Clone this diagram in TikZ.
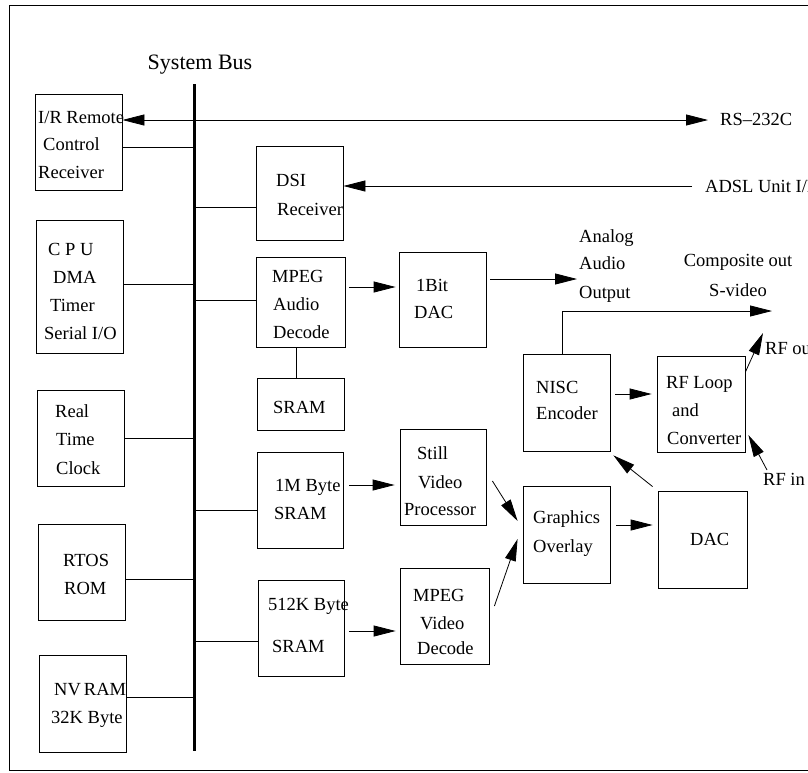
\documentclass[tikz,border=0pt]{standalone}
\usepackage{fontspec}
\setmainfont{Liberation Serif}
\usetikzlibrary{arrows.meta}
\newcommand\bxfont{\fontsize{18.5}{20}\selectfont}
\newcommand\busfont{\fontsize{22}{24}\selectfont}
\tikzset{
  box/.style={draw, line width=0.8pt, inner sep=0pt},
  t/.style={anchor=base west, inner sep=0pt, font=\bxfont},
  tc/.style={anchor=base, inner sep=0pt, font=\bxfont},
  wire/.style={line width=0.8pt},
  arr/.style={line width=0.8pt, -{Triangle[length=22pt,width=11pt]}},
  arrb/.style={line width=0.8pt, {Triangle[length=22pt,width=11pt]}-{Triangle[length=22pt,width=11pt]}},
}
\begin{document}
\begin{tikzpicture}[x=1pt,y=-1pt]
\useasboundingbox (0,0) rectangle (808,772);
\clip (0,0) rectangle (808,772);
\fill[white] (0,0) rectangle (808,772);
% frame
\draw[line width=0.8pt] (9.5,5) rectangle (830,770);

% system bus
\node[anchor=base, inner sep=0pt, font=\busfont] (buslbl) at (200,69) {System Bus};
\coordinate (bt) at (194.5,84);
\coordinate (bb) at (194.5,751);
\draw[line width=3pt] (bt) -- (bb);

% left column boxes
\node[box, minimum width=87pt, minimum height=96pt] (ir) at (78.5,142) {};
\node[box, minimum width=87pt, minimum height=133pt] (cpu) at (79.5,286.5) {};
\node[box, minimum width=87pt, minimum height=96pt] (rtc) at (80.5,438) {};
\node[box, minimum width=87pt, minimum height=96pt] (rtos) at (81.5,572) {};
\node[box, minimum width=87pt, minimum height=97pt] (nvram) at (82.5,703.5) {};

\node[t] (ir1) at (38,123) {I/R Remote};
\node[t] (ir2) at (43,150) {Control};
\node[t] (ir3) at (38,178) {Receiver};
\node[t] (cpu1) at (48,255) {C P U};
\node[t] (cpu2) at (53,283) {DMA};
\node[t] (cpu3) at (50,311) {Timer};
\node[t] (cpu4) at (44,339) {Serial I/O};
\node[t] (rtc1) at (55,417) {Real};
\node[t] (rtc2) at (56,445) {Time};
\node[t] (rtc3) at (56,474) {Clock};
\node[t] (rtos1) at (63,566) {RTOS};
\node[t] (rtos2) at (64,594) {ROM};
\node[t] (nv1) at (54,695) {NV\,RAM};
\node[t] (nv2) at (51,723) {32K Byte};

% bus taps, left
\coordinate (tir) at (194.5,147);
\coordinate (tcpu) at (194.5,284);
\coordinate (trtc) at (194.5,438);
\coordinate (trtos) at (194.5,579);
\coordinate (tnv) at (194.5,697);
\draw[wire] (tir -| ir.east) -- (tir);
\draw[wire] (tcpu -| cpu.east) -- (tcpu);
\draw[wire] (trtc -| rtc.east) -- (trtc);
\draw[wire] (trtos -| rtos.east) -- (trtos);
\draw[wire] (tnv -| nvram.east) -- (tnv);

% middle column boxes
\node[box, minimum width=87pt, minimum height=94pt] (dsi) at (299.5,193) {};
\node[box, minimum width=89pt, minimum height=90pt] (mpa) at (300.5,302) {};
\node[box, minimum width=87pt, minimum height=52pt] (sram) at (300.5,404) {};
\node[box, minimum width=86pt, minimum height=96pt] (m1) at (300,500) {};
\node[box, minimum width=86pt, minimum height=96pt] (k512) at (301,628) {};

\node[t] (dsi1) at (276,186) {DSI};
\node[t] (dsi2) at (277,215) {Receiver};
\node[t] (mpa1) at (272,282) {MPEG};
\node[t] (mpa2) at (273,310) {Audio};
\node[t] (mpa3) at (273,338) {Decode};
\node[t] (sram1) at (273,413) {SRAM};
\node[t] (m11) at (275,491) {1M Byte};
\node[t] (m12) at (274,519) {SRAM};
\node[t] (k1) at (268,610) {512K Byte};
\node[t] (k2) at (272,652) {SRAM};

% bus taps, right
\coordinate (tdsi) at (194.5,207);
\coordinate (tmpa) at (194.5,300);
\coordinate (tm1) at (194.5,510);
\coordinate (tk) at (194.5,641);
\draw[wire] (tdsi) -- (tdsi -| dsi.west);
\draw[wire] (tmpa) -- (tmpa -| mpa.west);
\draw[wire] (tm1) -- (tm1 -| m1.west);
\draw[wire] (tk) -- (tk -| k512.west);

% second column
\node[box, minimum width=87pt, minimum height=95pt] (bit) at (442.5,299.5) {};
\node[box, minimum width=86pt, minimum height=96pt] (still) at (443,477) {};
\node[box, minimum width=89pt, minimum height=96pt] (mpv) at (444.5,616) {};

\node[t] (bit1) at (416,291) {1Bit};
\node[t] (bit2) at (414,318) {DAC};
\node[t] (st1) at (417,459) {Still};
\node[t] (st2) at (418,488) {Video};
\node[t] (st3) at (404,515) {Processor};
\node[t] (mv1) at (413,601) {MPEG};
\node[t] (mv2) at (420,629) {Video};
\node[t] (mv3) at (417,654) {Decode};

% right part
\node[box, minimum width=87pt, minimum height=97pt] (gfx) at (566.5,534.5) {};
\node[box, minimum width=89pt, minimum height=97pt] (dac) at (702.5,539.5) {};
\node[box, minimum width=87pt, minimum height=97pt] (nisc) at (566.5,402.5) {};
\node[box, minimum width=88pt, minimum height=96pt] (rf) at (701,404) {};

\node[t] (g1) at (533,523) {Graphics};
\node[t] (g2) at (533,552) {Overlay};
\node[t] (d1) at (690,545) {DAC};
\node[t] (n1) at (536,393) {NISC};
\node[t] (n2) at (536,419) {Encoder};
\node[t] (r1) at (666,388) {RF Loop};
\node[t] (r2) at (672,416) {and};
\node[t] (r3) at (667,444) {Converter};

% labels
\node[t] (rslbl) at (720,125) {RS--232C};
\node[t] (adsllbl) at (705,192) {ADSL Unit I/F};
\node[t] (ao1) at (579,242) {Analog};
\node[t] (ao2) at (579,269) {Audio};
\node[t] (ao3) at (579,298) {Output};
\node[tc] (co1) at (738,266) {Composite out};
\node[tc] (co2) at (738,296) {S-video};
\node[t] (rfolbl) at (765,354) {RF out};
\node[t] (rfilbl) at (763,485) {RF in};

% free ends
\coordinate (rs) at (708,120);
\coordinate (adsl) at (692,186);
\coordinate (aout) at (577,279);
\coordinate (cvout) at (772,311);
\coordinate (rfo) at (763,333);
\coordinate (rfi) at (767,470);

% connectors
\draw[arrb] ([yshift=22pt]ir.east) -- ([yshift=22pt]ir.east -| rs);
\draw[arr] (adsl) -- (adsl -| dsi.east);
\draw[arr, shorten <=4pt, shorten >=3pt] ([yshift=15pt]mpa.east) -- ([yshift=15pt]mpa.east -| bit.west);
\draw[arr, shorten <=4pt] ([yshift=20.5pt]bit.east) -- ([yshift=20.5pt]bit.east -| aout);
\draw[wire] ([xshift=-4.5pt]mpa.south) -- ([xshift=-4.5pt]mpa.south |- sram.north);
\draw[arr, shorten <=6pt, shorten >=5pt] ([yshift=15pt]m1.east) -- ([yshift=15pt]m1.east -| still.west);
\draw[arr, shorten <=5pt, shorten >=4pt] ([yshift=-3pt]k512.east) -- ([yshift=-3pt]k512.east -| mpv.west);
\draw[arr] ([shift={(6,4)}]still.east) -- ([shift={(-5,-13.5)}]gfx.west);
\draw[arr] ([shift={(5,-10)}]mpv.east) -- ([shift={(-5,4.5)}]gfx.west);
\draw[arr, shorten <=6pt, shorten >=5pt] ([yshift=9.5pt]gfx.east) -- ([yshift=9.5pt]gfx.east -| dac.west);
\draw[arr] ([shift={(-5,-4)}]dac.north west) -- ([shift={(3,4)}]nisc.south east);
\draw[arr, shorten <=5pt, shorten >=5pt] ([yshift=8.5pt]nisc.east) -- ([yshift=8.5pt]nisc.east -| rf.west);
\draw[arr] ([xshift=-4.5pt]nisc.north) |- (cvout);
\draw[arr] ([yshift=32pt]rf.east) -- (rfo);
\draw[arr] (rfi) -- ([shift={(3,31)}]rf.east);
\end{tikzpicture}
\end{document}
